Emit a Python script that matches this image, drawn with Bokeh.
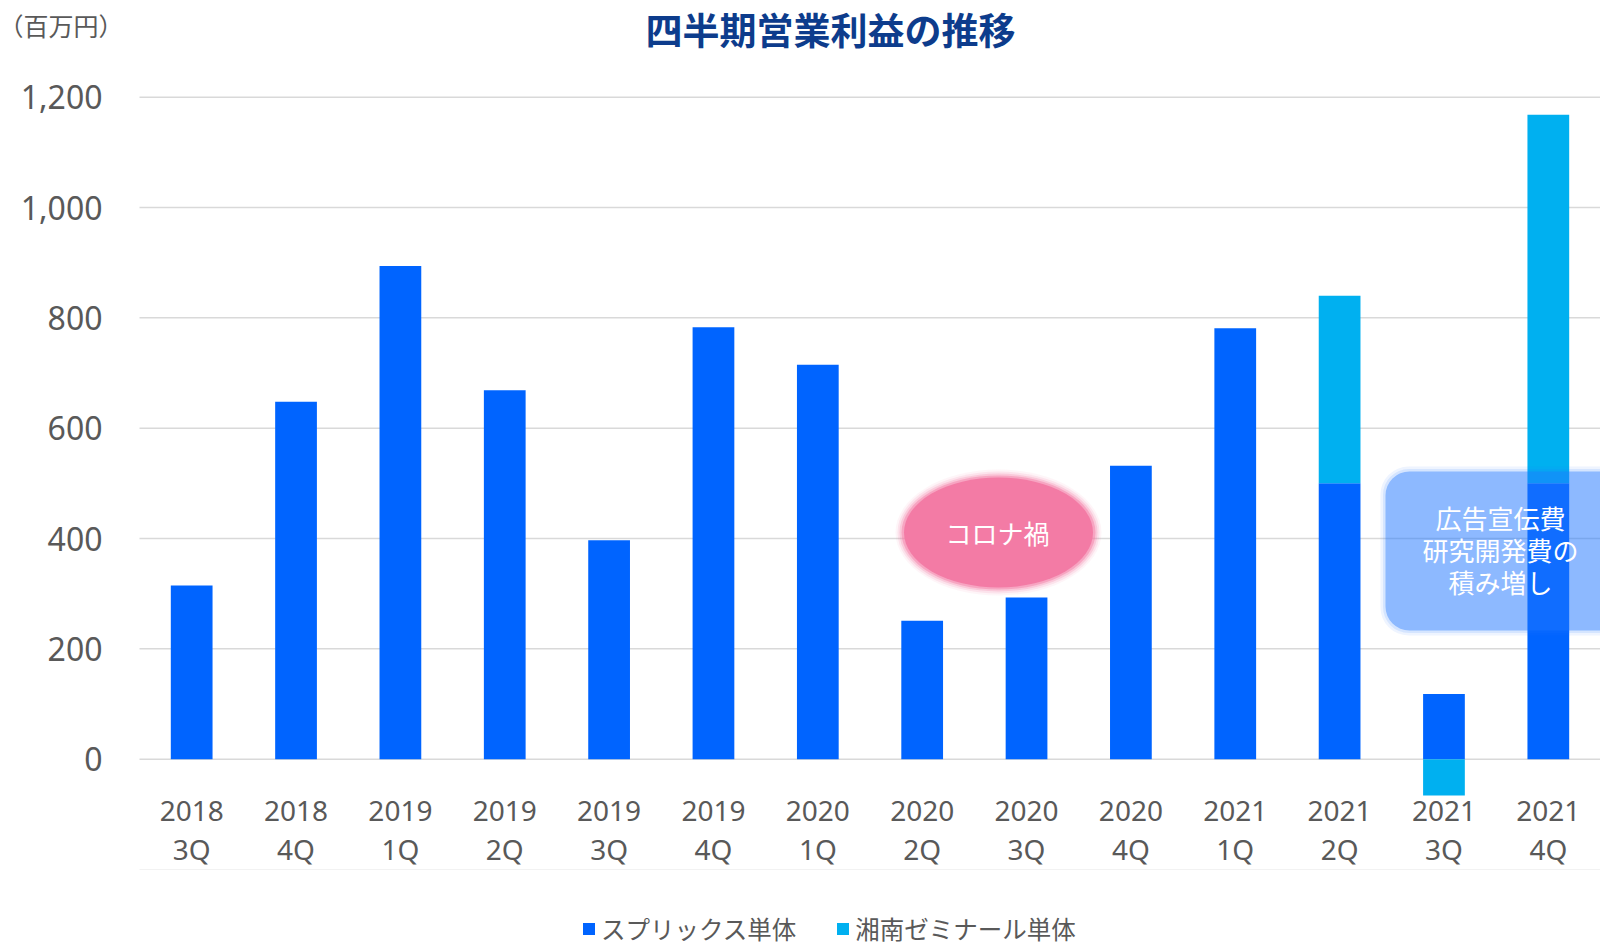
from bokeh.plotting import figure
from bokeh.models import (ColumnDataSource, Range1d, FixedTicker,
                          NumeralTickFormatter, Label, BoxAnnotation,
                          Legend, LegendItem)
from bokeh.embed import file_html
from bokeh.resources import INLINE

# ---- data ----
quarters = ["2018\n3Q", "2018\n4Q", "2019\n1Q", "2019\n2Q", "2019\n3Q", "2019\n4Q",
            "2020\n1Q", "2020\n2Q", "2020\n3Q", "2020\n4Q", "2021\n1Q", "2021\n2Q",
            "2021\n3Q", "2021\n4Q"]
spliqs = [315, 648, 894, 669, 397, 783, 715, 251, 293, 532, 781, 500, 118, 500]
shonan = [0, 0, 0, 0, 0, 0, 0, 0, 0, 0, 0, 340, -66, 668]
series_names = ["スプリックス単体", "湘南ゼミナール単体"]
y_ticks = [0, 200, 400, 600, 800, 1000, 1200]
y_floor = -200
unit_label = "（百万円）"
title_text = "四半期営業利益の推移"
covid_text = "コロナ禍"
note_text = "広告宣伝費\n研究開発費の\n積み増し"

idx = list(range(len(quarters)))
# stacking like a spreadsheet: positives stack upward, negatives downward from zero
s_bottom = [0] * len(spliqs)
s_top = list(spliqs)
h_bottom = [s if h >= 0 else h for s, h in zip(spliqs, shonan)]
h_top = [s + h if h >= 0 else 0 for s, h in zip(spliqs, shonan)]
src = ColumnDataSource(dict(x=idx, sb=s_bottom, st=s_top, hb=h_bottom, ht=h_top))

GRAY = "#595959"
JP = "Noto Sans CJK JP"
NUM = "Noto Sans"

W, H = 1600, 946
LEFT = 139                      # plot-area left edge (px)
CAT = (W - LEFT) / len(quarters)  # px per category
ZERO_PX, TOP_PX = 758.7, 96.7     # px of 0 and 1200
PPU = (ZERO_PX - TOP_PX) / 1200.0
x_start = -0.5 - LEFT / CAT
x_end = len(quarters) - 0.5
y_top = 1200 + TOP_PX / PPU
y_bot = -(H - ZERO_PX) / PPU

p = figure(width=W, height=H, x_range=Range1d(x_start, x_end), y_range=Range1d(y_bot, y_top),
           output_backend="svg", toolbar_location=None, min_border=0)
p.outline_line_color = None
p.background_fill_color = "white"
p.border_fill_color = "white"
p.xgrid.grid_line_color = None
p.ygrid.grid_line_color = None

# grid lines limited to the plot area
gy = y_ticks
p.segment(x0=[-0.5] * len(gy), x1=[x_end] * len(gy), y0=gy, y1=gy,
          line_color="#D9D9D9", line_width=1.5)
p.segment(x0=[-0.5], x1=[x_end], y0=[y_floor], y1=[y_floor],
          line_color="#F2F2F2", line_width=1)

r1 = p.vbar(x="x", bottom="sb", top="st", width=0.40, source=src,
            fill_color="#0064FF", line_color=None)
r2 = p.vbar(x="x", bottom="hb", top="ht", width=0.40, source=src,
            fill_color="#00B0F0", line_color=None)

# axes
p.yaxis.fixed_location = -0.5
p.yaxis.ticker = FixedTicker(ticks=y_ticks)
p.yaxis.formatter = NumeralTickFormatter(format="0,0")
p.yaxis.axis_line_color = None
p.yaxis.major_tick_line_color = None
p.yaxis.minor_tick_line_color = None
p.yaxis.major_label_standoff = 31
p.yaxis.major_label_text_font = NUM
p.yaxis.major_label_text_font_size = "32px"
p.yaxis.major_label_text_color = GRAY

p.xaxis.fixed_location = 0
p.xaxis.ticker = FixedTicker(ticks=idx)
p.xaxis.major_label_overrides = {i: q for i, q in zip(idx, quarters)}
p.xaxis.axis_line_color = None
p.xaxis.major_tick_line_color = None
p.xaxis.minor_tick_line_color = None
p.xaxis.major_label_standoff = 26
p.xaxis.major_label_text_font = NUM
p.xaxis.major_label_text_font_size = "28px"
p.xaxis.major_label_text_color = GRAY
p.xaxis.major_label_text_line_height = 1.03

def sx(px):
    return (px - LEFT) / CAT - 0.5

def sy(py):
    return (ZERO_PX - py) / PPU

# covid ellipse with soft edge
ex, ey = sx(998), sy(532)
for w_, h_, a_ in [(206, 126, 0.08), (202, 122, 0.14), (198, 118, 0.25), (194, 114, 0.45),
                   (189, 110, 1.0)]:
    p.ellipse(x=[ex], y=[ey], width=[w_], height=[h_], width_units="screen",
              height_units="screen", fill_color="#F37BA5", fill_alpha=a_, line_color=None)
p.add_layout(Label(x=sx(997), y=sy(532), text=covid_text, text_font=JP, text_font_size="26px",
                   text_color="white", text_align="center", text_baseline="middle"))

# cost note box with soft edge
for d, a_, rad in [(5, 0.08, 28), (2.5, 0.12, 26), (0, 0.40, 24)]:
    p.add_layout(BoxAnnotation(left=sx(1385 - d), right=x_end + 1, top=sy(471 - d),
                               bottom=sy(630 + d), fill_color="#2078FF", fill_alpha=a_,
                               line_color=None, border_radius=rad, level="annotation"))
p.add_layout(Label(x=sx(1500), y=sy(549), text=note_text, text_font=JP, text_font_size="26px",
                   text_color="white", text_align="center", text_baseline="middle",
                   text_line_height=0.87))

# title & unit
p.add_layout(Label(x=sx(830), y=sy(28), text=title_text, text_font=JP, text_font_size="37px",
                   text_font_style="bold", text_color="#0D3C8C", text_align="center",
                   text_baseline="middle"))
p.add_layout(Label(x=sx(-2), y=sy(24), text=unit_label, text_font=JP, text_font_size="25px",
                   text_color=GRAY, text_align="left", text_baseline="middle"))

legend = Legend(items=[LegendItem(label=series_names[0], renderers=[r1]),
                       LegendItem(label=series_names[1], renderers=[r2])],
                orientation="horizontal", location=(581, 0),
                glyph_width=15, glyph_height=15, label_standoff=5, spacing=39,
                padding=0, margin=0, border_line_color=None, background_fill_alpha=0,
                label_text_font=JP, label_text_font_size="24.5px", label_text_color=GRAY,
                label_height=26)
p.add_layout(legend, "center")

open("out.html", "w").write(file_html(p, INLINE))
